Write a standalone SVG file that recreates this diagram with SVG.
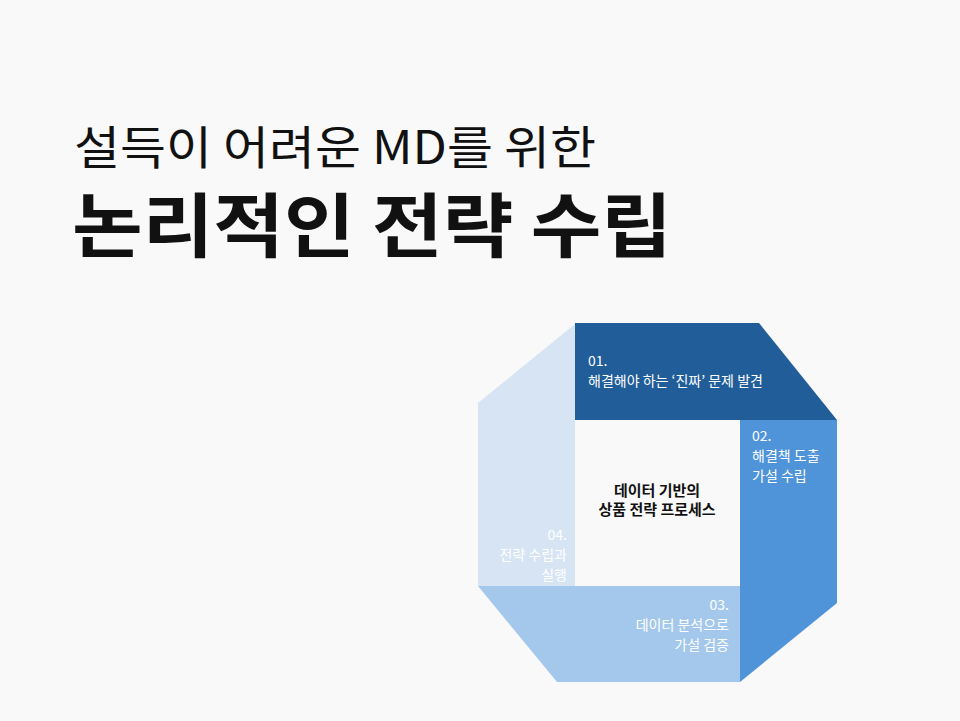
<svg xmlns="http://www.w3.org/2000/svg" width="960" height="721" viewBox="0 0 960 721">
<style>
text{font-family:"Noto Sans CJK KR","Noto Sans",sans-serif}
.w{fill:#fff;font-size:14px}
.c{fill:#111;font-size:15px;font-weight:700;text-anchor:middle}
.r{text-anchor:end}
</style>
<rect width="960" height="721" fill="#f9f9f9"/>
<g id="title">
<text x="74" y="164" font-size="46" fill="#111" font-weight="400" textLength="522" lengthAdjust="spacingAndGlyphs">설득이 어려운 MD를 위한</text>
<text x="72" y="252" font-size="70" fill="#111" font-weight="700" textLength="600" lengthAdjust="spacingAndGlyphs">논리적인 전략 수립</text>
</g>
<g id="n04"><polygon points="575,324 478,403 478,586 575,586" fill="#d6e4f4"/>
<text class="w r" x="567" y="540">04.</text><text class="w r" x="567" y="560">전략 수립과</text><text class="w r" x="567" y="580">실행</text></g>
<g id="n01"><polygon points="575,323 759,323 837,420 575,420" fill="#215d99"/>
<text class="w" x="588" y="366">01.</text><text class="w" x="588" y="386">해결해야 하는 ‘진짜’ 문제 발견</text></g>
<g id="n02"><polygon points="740,420 837,420 837,603 740,682" fill="#4f93d8"/>
<text class="w" x="752" y="441">02.</text><text class="w" x="752" y="461">해결책 도출</text><text class="w" x="752" y="481">가설 수립</text></g>
<g id="n03"><polygon points="478,586 740,586 740,682 557,682" fill="#a4c8eb"/>
<text class="w r" x="729" y="610">03.</text><text class="w r" x="729" y="630">데이터 분석으로</text><text class="w r" x="729" y="650">가설 검증</text></g>
<g id="center"><rect x="575" y="420" width="165" height="166" fill="#f9f9f9"/>
<text class="c" x="657" y="496">데이터 기반의</text><text class="c" x="657" y="515">상품 전략 프로세스</text></g>
<g id="connectors"/>
</svg>
